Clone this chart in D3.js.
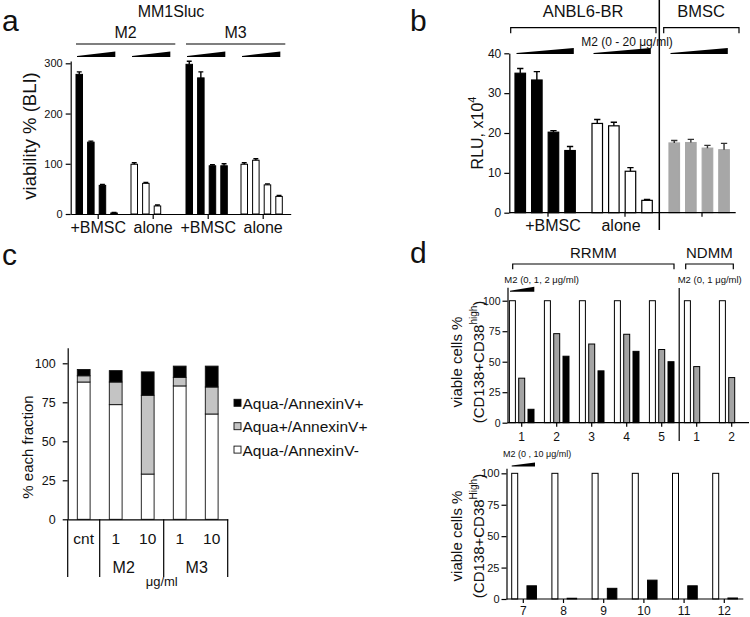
<!DOCTYPE html>
<html><head><meta charset="utf-8">
<script src="https://cdn.jsdelivr.net/npm/d3@7"></script>
<style>
body{margin:0;background:#fff}
svg text{font-family:"Liberation Sans",Arial,Helvetica,sans-serif;fill:#111}
</style>
</head><body>
<svg id="chart" width="750" height="617"></svg>
<script>
// ---------------- DATA ----------------
// Panel a (MM1Sluc viability % BLI)
const aGroups = ["M2 +BMSC", "M2 alone", "M3 +BMSC", "M3 alone"];
const aDoses = ["d0", "d1", "d2", "d3"];
const aValues = [[278, 143, 57, 2], [99, 61, 16, null], [298, 271, 96, 96], [99, 107, 58, 35]];
const aErrors = [[5, 2, 2, 1], [3, 2, 2, null], [6, 12, 2, 4], [3, 3, 2, 2]];
const aXLabels = ["+BMSC", "alone", "+BMSC", "alone"];
const aYTicks = [0, 100, 200, 300];

// Panel b (ANBL6-BR / BMSC, RLU x10^4)
const bGroups = ["+BMSC", "alone", "BMSC"];
const bDoses = ["d0", "d1", "d2", "d3"];
const bValues = [[35.0, 33.3, 20.2, 15.6], [22.4, 21.8, 10.4, 3.1], [17.5, 17.6, 16.2, 15.8]];
const bErrors = [[1.2, 2.1, 0.4, 1.0], [1.0, 0.9, 0.9, 0.2], [0.6, 0.8, 0.7, 1.6]];
const bXLabels = ["+BMSC", "alone", ""];
const bYTicks = [0, 10, 20, 30, 40];

// Panel c (% each fraction, stacked)
const cCategories = ["cnt", "M2 1", "M2 10", "M3 1", "M3 10"];
const cTickLabels = ["cnt", "1", "10", "1", "10"];
const cAquaNegAnnexNeg = [88, 73.5, 29, 85.5, 67.5];   // Aqua-/AnnexinV-
const cAquaPosAnnexPos = [4, 14.5, 50.5, 5.5, 17.3];   // Aqua+/AnnexinV+
const cAquaNegAnnexPos = [4, 7.3, 15, 7.2, 13.4];      // Aqua-/AnnexinV+
const cSeriesNames = ["Aqua-/AnnexinV-", "Aqua+/AnnexinV+", "Aqua-/AnnexinV+"];
const cYTicks = [0, 25, 50, 75, 100];

// Panel d top (RRMM 1-5, NDMM 1-2)
const dTopPatients = ["R1", "R2", "R3", "R4", "R5", "N1", "N2"];
const dTopLabels = ["1", "2", "3", "4", "5", "1", "2"];
const dTopDose0 = [100, 100, 100, 100, 100, 100, 100];
const dTopDose1 = [36.5, 73, 64.5, 72.5, 60, 46, 37];
const dTopDose2 = [11, 54.5, 42.5, 58.5, 50, null, null];

// Panel d bottom (patients 7-12)
const dBotPatients = ["7", "8", "9", "10", "11", "12"];
const dBotDose0 = [100, 100, 100, 100, 100, 100];
const dBotDose10 = [10.5, 0.6, 8.5, 15, 10.5, 0.8];
const dYTicks = [0, 25, 50, 75, 100];

// ---------------- HELPERS ----------------
const svg = d3.select("#chart");
function styleAxis(g, fs) {
  g.attr("font-family", null).attr("font-size", null);
  g.selectAll("path,line").attr("stroke", "#000").attr("stroke-width", 1.2);
  g.selectAll("text").attr("fill", "#111").style("font-size", fs + "px");
}
function wedge(p, x0, x1, yb, h) {
  p.append("path").attr("d", `M${x0},${yb}L${x1},${yb}L${x1},${yb - h}L${x0},${yb - 1}Z`).attr("fill", "#000");
}
function bracket(p, x0, x1, y, t) {
  p.append("path").attr("d", `M${x0},${y + t}V${y}H${x1}V${y + t}`)
    .attr("fill", "none").attr("stroke", "#000").attr("stroke-width", 1.2);
}
function txt(p, x, y, s, fs, anchor) {
  return p.append("text").attr("x", x).attr("y", y).attr("text-anchor", anchor || "middle")
    .style("font-size", fs + "px").text(s);
}

// ---------------- PANEL A ----------------
const A = svg.append("g");
const ay = d3.scaleLinear().domain([0, 304.6]).range([214, 61]);
const ax = d3.scaleBand().domain(aGroups).range([70.7, 290.7]);
const axIn = d3.scaleBand().domain(aDoses).range([5.3, 46.6]).paddingInner(0.44);
const aFill = ["#000", "#fff", "#000", "#fff"];
const aData = [];
aGroups.forEach((g, gi) => aDoses.forEach((d, di) => {
  if (aValues[gi][di] != null) aData.push({g, d, v: aValues[gi][di], e: aErrors[gi][di], fill: aFill[gi]});
}));
A.selectAll("rect.bar").data(aData).join("rect").attr("class", "bar")
  .attr("x", d => ax(d.g) + axIn(d.d)).attr("y", d => ay(d.v))
  .attr("width", axIn.bandwidth()).attr("height", d => ay(0) - ay(d.v))
  .attr("fill", d => d.fill).attr("stroke", "#000").attr("stroke-width", 1);
A.selectAll("path.err").data(aData).join("path").attr("class", "err")
  .attr("d", d => {
    const cx = ax(d.g) + axIn(d.d) + axIn.bandwidth() / 2, cw = axIn.bandwidth() * 0.38, yt = ay(d.v + d.e);
    return `M${cx},${ay(d.v)}V${yt}M${cx - cw},${yt}H${cx + cw}`;
  }).attr("stroke", "#000").attr("stroke-width", 1.4).attr("fill", "none");
A.append("g").attr("transform", "translate(70.7,0)")
  .call(d3.axisLeft(ay).tickValues(aYTicks).tickSize(5).tickPadding(3).tickSizeOuter(0))
  .call(g => styleAxis(g, 11));
A.append("g").attr("transform", `translate(0,${ay(0)})`)
  .call(d3.axisBottom(ax).tickSize(5).tickPadding(3).tickSizeOuter(0).tickFormat((d, i) => aXLabels[i]))
  .call(g => styleAxis(g, 16));
aGroups.forEach(g => wedge(A, ax(g) + axIn("d0") + 1, ax(g) + axIn("d3") + axIn.bandwidth() - 2, 57, 5.5));
const aM2x0 = ax(aGroups[0]) + axIn("d0"), aM2x1 = ax(aGroups[1]) + axIn("d3") + axIn.bandwidth() + 3;
const aM3x0 = ax(aGroups[2]) + axIn("d0"), aM3x1 = ax(aGroups[3]) + axIn("d3") + axIn.bandwidth() + 3;
bracket(A, aM2x0, aM2x1, 44, 0);
bracket(A, aM3x0, aM3x1, 44, 0);
txt(A, (aM2x0 + aM2x1) / 2, 38, "M2", 16);
txt(A, (aM3x0 + aM3x1) / 2, 38, "M3", 16);
txt(A, 171, 17, "MM1Sluc", 16);
A.append("text").attr("transform", "translate(36,136) rotate(-90)").attr("text-anchor", "middle")
  .style("font-size", "18.5px").text("viability % (BLI)");
txt(A, 2, 31, "a", 30, "start");

// ---------------- PANEL B ----------------
const B = svg.append("g");
const by = d3.scaleLinear().domain([0, 40]).range([212.7, 53.3]);
const bx = d3.scaleBand().domain(bGroups).range([509.5, 740.5]);
const bxIn = d3.scaleBand().domain(bDoses).range([5.5, 65.8]).paddingInner(0.367);
const bFill = ["#000", "#fff", "#a7a7a7"];
const bStroke = ["#000", "#000", "#a7a7a7"];
const bData = [];
bGroups.forEach((g, gi) => bDoses.forEach((d, di) => bData.push({g, gi, d, v: bValues[gi][di], e: bErrors[gi][di]})));
B.selectAll("rect.bar").data(bData).join("rect").attr("class", "bar")
  .attr("x", d => bx(d.g) + bxIn(d.d)).attr("y", d => by(d.v))
  .attr("width", bxIn.bandwidth()).attr("height", d => by(0) - by(d.v))
  .attr("fill", d => bFill[d.gi]).attr("stroke", d => bStroke[d.gi]).attr("stroke-width", 1.2);
B.selectAll("path.err").data(bData).join("path").attr("class", "err")
  .attr("d", d => {
    const cx = bx(d.g) + bxIn(d.d) + bxIn.bandwidth() / 2, cw = bxIn.bandwidth() * 0.3, yt = by(d.v + d.e);
    return `M${cx},${by(d.v)}V${yt}M${cx - cw},${yt}H${cx + cw}`;
  }).attr("stroke", d => d.gi === 2 ? "#333" : "#000").attr("stroke-width", 1.4).attr("fill", "none");
B.append("g").attr("transform", "translate(509.3,0)")
  .call(d3.axisLeft(by).tickValues(bYTicks).tickSize(5).tickPadding(3).tickSizeOuter(0))
  .call(g => styleAxis(g, 12));
B.append("g").attr("transform", `translate(0,${by(0)})`)
  .call(d3.axisBottom(bx).tickSize(4).tickPadding(3).tickSizeOuter(0).tickFormat((d, i) => bXLabels[i]))
  .call(g => { styleAxis(g, 16); g.select(".domain").remove();
    g.selectAll(".tick text").attr("dx", (d, i) => [5, -4, 0][i]); });
B.append("line").attr("x1", 509.3).attr("x2", 735.7).attr("y1", by(0)).attr("y2", by(0))
  .attr("stroke", "#000").attr("stroke-width", 1.2);
bGroups.forEach(g => wedge(B, bx(g) + bxIn("d0") + 1.5, bx(g) + bxIn("d3") + bxIn.bandwidth() - 1.5, 54, 6));
const bSep = (bx(bGroups[1]) + bx.bandwidth() + bx(bGroups[2])) / 2 - 9;
B.append("line").attr("x1", 659.3).attr("x2", 659.3).attr("y1", 0).attr("y2", 230)
  .attr("stroke", "#000").attr("stroke-width", 1.5);
bracket(B, 510.7, 656, 27.7, 5.5);
bracket(B, 663.7, 739, 27.7, 5.5);
txt(B, 583, 17, "ANBL6-BR", 16.5);
txt(B, 701, 17, "BMSC", 16.5);
txt(B, 627, 46, "M2 (0 - 20 μg/ml)", 12);
const bYl = B.append("text").attr("transform", "translate(483,133) rotate(-90)").attr("text-anchor", "middle")
  .style("font-size", "16px");
bYl.append("tspan").text("RLU, x10");
bYl.append("tspan").attr("dy", -7).style("font-size", "11px").text("4");
txt(B, 410, 31, "b", 30, "start");

// ---------------- PANEL C ----------------
const C = svg.append("g");
const cy = d3.scaleLinear().domain([0, 110]).range([519.3, 347.7]);
const cx = d3.scaleBand().domain(cCategories).range([67.7, 227.7]).paddingInner(0.6).paddingOuter(0.3);
const cRows = cCategories.map((c, i) => ({cat: c, neg: cAquaNegAnnexNeg[i], aquaPos: cAquaPosAnnexPos[i], annexPos: cAquaNegAnnexPos[i]}));
const cKeys = ["neg", "aquaPos", "annexPos"];
const cFill = {neg: "#fff", aquaPos: "#c4c4c4", annexPos: "#000"};
const cStack = d3.stack().keys(cKeys)(cRows);
C.selectAll("g.layer").data(cStack).join("g").attr("class", "layer")
  .attr("fill", d => cFill[d.key])
  .selectAll("rect").data(d => d).join("rect")
  .attr("x", d => cx(d.data.cat)).attr("y", d => cy(d[1]))
  .attr("width", cx.bandwidth()).attr("height", d => cy(d[0]) - cy(d[1]))
  .attr("stroke", "#111").attr("stroke-width", 0.9);
C.append("g").attr("transform", "translate(67.7,0)")
  .call(d3.axisLeft(cy).tickValues(cYTicks).tickSize(5).tickPadding(7).tickSizeOuter(0))
  .call(g => styleAxis(g, 12.5));
C.append("g").attr("transform", `translate(0,${cy(0)})`)
  .call(d3.axisBottom(cx).tickSize(0).tickPadding(14).tickSizeOuter(0).tickFormat((d, i) => cTickLabels[i]))
  .call(g => styleAxis(g, 15.5));
const cStep = cx.step(), cX0 = cx.range()[0];
[0, 1, 3, 5].forEach(k => C.append("line").attr("x1", cX0 + k * cStep).attr("x2", cX0 + k * cStep)
  .attr("y1", cy(0)).attr("y2", 577).attr("stroke", "#000").attr("stroke-width", 1.2));
txt(C, cX0 + 2 * cStep - 8, 573, "M2", 16);
txt(C, cX0 + 4 * cStep + 1, 573, "M3", 16);
txt(C, cX0 + 3 * cStep - 2, 586, "μg/ml", 13);
C.append("text").attr("transform", "translate(33,447) rotate(-90)").attr("text-anchor", "middle")
  .style("font-size", "15px").text("% each fraction");
const cLegend = [{k: "annexPos", n: cSeriesNames[2]}, {k: "aquaPos", n: cSeriesNames[1]}, {k: "neg", n: cSeriesNames[0]}];
cLegend.forEach((l, i) => {
  const yc = 403.3 + i * 23.4;
  C.append("rect").attr("x", 234).attr("y", yc - 4).attr("width", 7).attr("height", 7)
    .attr("fill", cFill[l.k]).attr("stroke", "#111").attr("stroke-width", 0.9);
  C.append("text").attr("x", 242.5).attr("y", yc + 5.5).style("font-size", "15.5px").text(l.n);
});
txt(C, 2, 265, "c", 30, "start");

// ---------------- PANEL D TOP ----------------
const D = svg.append("g");
const dty = d3.scaleLinear().domain([0, 111]).range([422.7, 287.3]);
const dtx = d3.scaleBand().domain(dTopPatients).range([504.2, 749.2]);
const dtIn = d3.scalePoint().domain([0, 1, 2]).range([8.2, 26.8]);
const dtSeries = [dTopDose0, dTopDose1, dTopDose2];
const dtFill = ["#fff", "#a3a3a3", "#000"];
const dtData = [];
dTopPatients.forEach((p, pi) => dtSeries.forEach((s, si) => { if (s[pi] != null) dtData.push({p, si, v: s[pi]}); }));
D.selectAll("rect.dt").data(dtData).join("rect").attr("class", "dt")
  .attr("x", d => dtx(d.p) + dtIn(d.si) - 3).attr("y", d => dty(d.v))
  .attr("width", 6).attr("height", d => dty(0) - dty(d.v))
  .attr("fill", d => dtFill[d.si]).attr("stroke", "#000").attr("stroke-width", 1);
D.append("g").attr("transform", "translate(507.5,0)")
  .call(d3.axisLeft(dty).tickValues(dYTicks).tickSize(5).tickPadding(2).tickSizeOuter(0))
  .call(g => styleAxis(g, 10.5));
D.append("g").attr("transform", `translate(0,${dty(0)})`)
  .call(d3.axisBottom(dtx).tickSize(4).tickPadding(6).tickSizeOuter(0).tickFormat((d, i) => dTopLabels[i]))
  .call(g => { styleAxis(g, 12); g.select(".domain").remove(); });
D.append("line").attr("x1", 507.5).attr("x2", 749).attr("y1", dty(0)).attr("y2", dty(0))
  .attr("stroke", "#000").attr("stroke-width", 1.2);
const dSepX = dtx("N1");
D.append("line").attr("x1", dSepX).attr("x2", dSepX).attr("y1", 288).attr("y2", 441)
  .attr("stroke", "#000").attr("stroke-width", 1.2);
wedge(D, dtx("R1") + 5.8, dtx("R1") + 30.1, 291.7, 5);
bracket(D, 512.7, 674, 264, 5.3);
bracket(D, 685.7, 733.3, 264, 5.3);
txt(D, 593.3, 258, "RRMM", 15);
txt(D, 709.3, 258, "NDMM", 15);
txt(D, 504.3, 283.3, "M2 (0, 1, 2 μg/ml)", 9.5, "start");
txt(D, 677.7, 283.3, "M2 (0, 1 μg/ml)", 9.5, "start");
function dYLabel(cy0, sup) {
  D.append("text").attr("transform", `translate(462,${cy0}) rotate(-90)`).attr("text-anchor", "middle")
    .style("font-size", "15px").text("viable cells %");
  const t = D.append("text").attr("transform", `translate(484,${cy0}) rotate(-90)`).attr("text-anchor", "middle")
    .style("font-size", "15px");
  t.append("tspan").text("(CD138+CD38");
  t.append("tspan").attr("dy", -7).style("font-size", "10px").text(sup);
  t.append("tspan").attr("dy", 7).text(")");
}
dYLabel(362, "high");
txt(D, 410, 263, "d", 30, "start");

// ---------------- PANEL D BOTTOM ----------------
const dby = d3.scaleLinear().domain([0, 104]).range([599, 468.3]);
const dbx = d3.scaleBand().domain(dBotPatients).range([503.2, 744.4]);
const dbIn = d3.scalePoint().domain([0, 1]).range([11.5, 28.5]);
const dbSeries = [dBotDose0, dBotDose10];
const dbFill = ["#fff", "#000"];
const dbWidth = [6, 9.5];
const dbData = [];
dBotPatients.forEach((p, pi) => dbSeries.forEach((s, si) => dbData.push({p, si, v: s[pi]})));
D.selectAll("rect.db").data(dbData).join("rect").attr("class", "db")
  .attr("x", d => dbx(d.p) + dbIn(d.si) - dbWidth[d.si] / 2).attr("y", d => dby(d.v))
  .attr("width", d => dbWidth[d.si]).attr("height", d => dby(0) - dby(d.v))
  .attr("fill", d => dbFill[d.si]).attr("stroke", "#000").attr("stroke-width", 1);
D.append("g").attr("transform", "translate(506.5,0)")
  .call(d3.axisLeft(dby).tickValues(dYTicks).tickSize(5).tickPadding(2).tickSizeOuter(0))
  .call(g => styleAxis(g, 11));
D.append("g").attr("transform", `translate(0,${dby(0)})`)
  .call(d3.axisBottom(dbx).tickSize(4).tickPadding(3.5).tickSizeOuter(0))
  .call(g => { styleAxis(g, 12); g.select(".domain").remove(); });
D.append("line").attr("x1", 506.5).attr("x2", 743.3).attr("y1", dby(0)).attr("y2", dby(0))
  .attr("stroke", "#000").attr("stroke-width", 1.2);
wedge(D, dbx("7") + 8.5, dbx("7") + 31.8, 466.5, 4);
txt(D, 503, 457, "M2 (0 , 10 μg/ml)", 9, "start");
dYLabel(536, "High");
</script>
</body></html>
